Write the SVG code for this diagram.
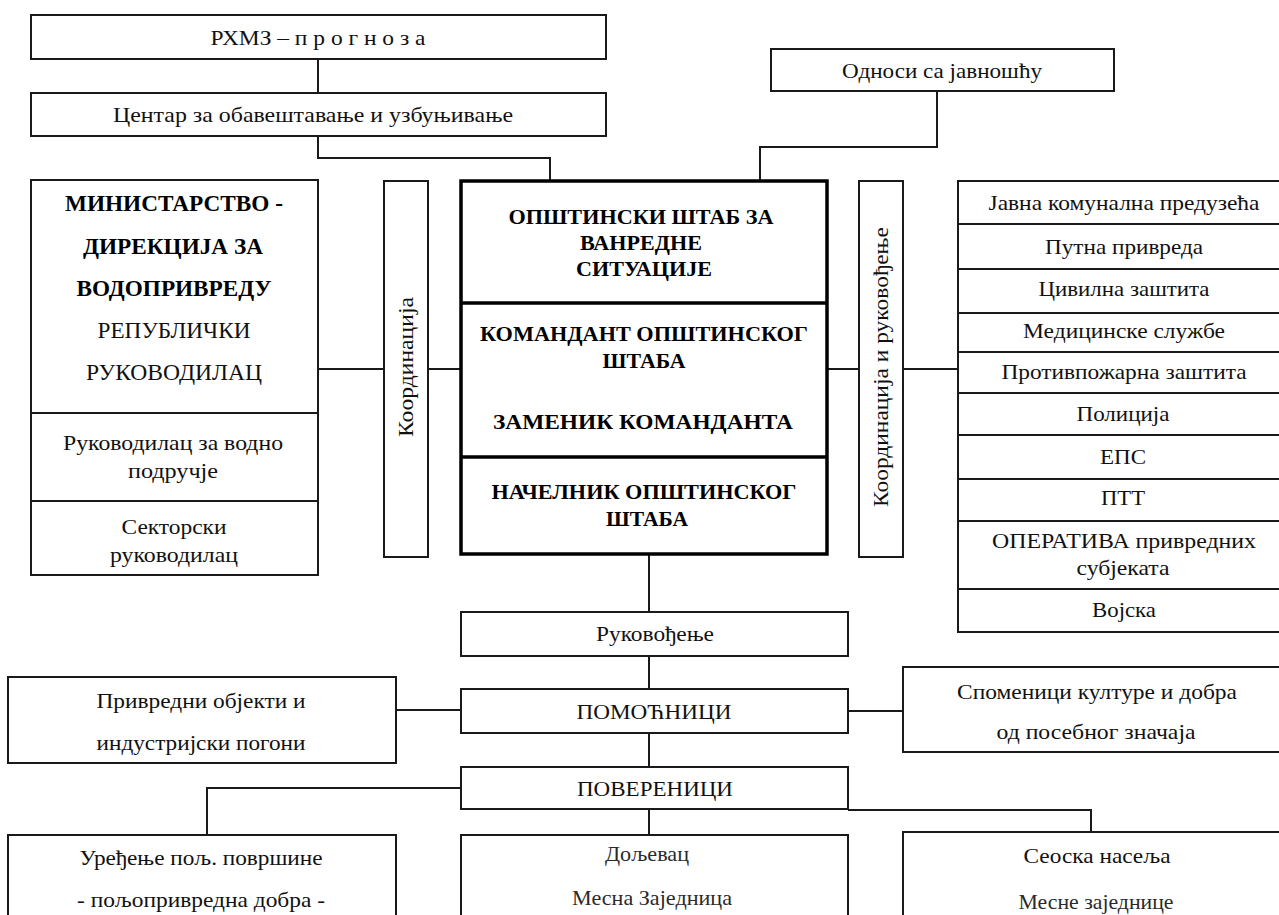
<svg xmlns="http://www.w3.org/2000/svg" width="1279" height="915" viewBox="0 0 1279 915" font-family="Liberation Serif, DejaVu Serif, serif">
<style>
.b{fill:#fff;stroke:#1a1a1a;stroke-width:2}
.k{fill:#fff;stroke:#000;stroke-width:3.5}
.c{fill:none;stroke:#1a1a1a;stroke-width:2}
.kd{fill:none;stroke:#000;stroke-width:3.5}
.t text{font-size:21px;fill:#111;text-anchor:middle;dominant-baseline:central}
.t text.bd{font-weight:bold;font-size:20px;fill:#000}
.t text.lg{font-size:23px}
.t text.lt{fill:#2a2a2a}
</style>
<rect width="1279" height="915" fill="#fff"/>
<g id="connectors">
<path class="c" d="M318 59V93"/>
<path class="c" d="M318 136V158H550V181"/>
<path class="c" d="M937 91V147H760V181"/>
<path class="c" d="M318 369H384M428 369H461"/>
<path class="c" d="M827 369H859M903 369H958"/>
<path class="c" d="M649 555V612M649 656V689M649 733V767M649 809V835"/>
<path class="c" d="M396 710H461M848 711H903"/>
<path class="c" d="M461 788H207V835"/>
<path class="c" d="M848 810H1091V832"/>
</g>
<g class="t">
<g id="rhmz"><rect class="b" x="31" y="15" width="575" height="44"/><text x="318" y="38" textLength="215" lengthAdjust="spacingAndGlyphs">РХМЗ – п р о г н о з а</text></g>
<g id="centar"><rect class="b" x="31" y="93" width="575" height="43"/><text x="313" y="115" textLength="400" lengthAdjust="spacingAndGlyphs">Центар за обавештавање и узбуњивање</text></g>
<g id="odnosi"><rect class="b" x="771" y="49" width="343" height="42"/><text x="942" y="71" textLength="200" lengthAdjust="spacingAndGlyphs">Односи са јавношћу</text></g>
<g id="ministarstvo">
<rect class="b" x="31" y="180" width="287" height="395"/>
<path class="c" d="M31 413H318M31 501H318"/>
<text class="bd lg" x="174" y="203" textLength="218" lengthAdjust="spacingAndGlyphs">МИНИСТАРСТВО -</text>
<text class="bd lg" x="173" y="246" textLength="180" lengthAdjust="spacingAndGlyphs">ДИРЕКЦИЈА ЗА</text>
<text class="bd lg" x="174" y="288" textLength="195" lengthAdjust="spacingAndGlyphs">ВОДОПРИВРЕДУ</text>
<text class="lg" x="174" y="330" textLength="153" lengthAdjust="spacingAndGlyphs">РЕПУБЛИЧКИ</text>
<text class="lg" x="174" y="372" textLength="176" lengthAdjust="spacingAndGlyphs">РУКОВОДИЛАЦ</text>
<text x="173" y="443" textLength="220" lengthAdjust="spacingAndGlyphs">Руководилац за водно</text>
<text x="173" y="471" textLength="90" lengthAdjust="spacingAndGlyphs">подручје</text>
<text x="174" y="527" textLength="105" lengthAdjust="spacingAndGlyphs">Секторски</text>
<text x="174" y="555" textLength="128" lengthAdjust="spacingAndGlyphs">руководилац</text>
</g>
<g id="koordinacija"><rect class="b" x="384" y="181" width="44" height="376"/><text transform="translate(406,367) rotate(-90)" textLength="140" lengthAdjust="spacingAndGlyphs">Координација</text></g>
<g id="stab">
<rect class="k" x="461" y="181" width="366" height="373"/>
<path class="kd" d="M461 303H827M461 457H827"/>
<text class="bd" x="641" y="217" textLength="265" lengthAdjust="spacingAndGlyphs">ОПШТИНСКИ ШТАБ ЗА</text>
<text class="bd" x="641" y="243" textLength="122" lengthAdjust="spacingAndGlyphs">ВАНРЕДНЕ</text>
<text class="bd" x="644" y="269" textLength="136" lengthAdjust="spacingAndGlyphs">СИТУАЦИЈЕ</text>
<text class="bd" x="644" y="334" textLength="328" lengthAdjust="spacingAndGlyphs">КОМАНДАНТ ОПШТИНСКОГ</text>
<text class="bd" x="644" y="361" textLength="83" lengthAdjust="spacingAndGlyphs">ШТАБА</text>
<text class="bd" x="643" y="422" textLength="300" lengthAdjust="spacingAndGlyphs">ЗАМЕНИК КОМАНДАНТА</text>
<text class="bd" x="644" y="492" textLength="305" lengthAdjust="spacingAndGlyphs">НАЧЕЛНИК ОПШТИНСКОГ</text>
<text class="bd" x="647" y="519" textLength="82" lengthAdjust="spacingAndGlyphs">ШТАБА</text>
</g>
<g id="koord-rukovodjenje"><rect class="b" x="859" y="181" width="44" height="376"/><text transform="translate(881,367) rotate(-90)" textLength="280" lengthAdjust="spacingAndGlyphs">Координација и руковођење</text></g>
<g id="sluzbe">
<rect class="b" x="958" y="181" width="330" height="451"/>
<path class="c" d="M958 224H1279M958 269H1279M958 313H1279M958 352H1279M958 393H1279M958 435H1279M958 479H1279M958 521H1279M958 589H1279"/>
<text x="1124" y="203" textLength="271" lengthAdjust="spacingAndGlyphs">Јавна комунална предузећа</text>
<text x="1124" y="247" textLength="158" lengthAdjust="spacingAndGlyphs">Путна привреда</text>
<text x="1124" y="289" textLength="171" lengthAdjust="spacingAndGlyphs">Цивилна заштита</text>
<text x="1124" y="331" textLength="202" lengthAdjust="spacingAndGlyphs">Медицинске службе</text>
<text x="1124" y="372" textLength="245" lengthAdjust="spacingAndGlyphs">Противпожарна заштита</text>
<text x="1123" y="414" textLength="93" lengthAdjust="spacingAndGlyphs">Полиција</text>
<text x="1123" y="457" textLength="46" lengthAdjust="spacingAndGlyphs">ЕПС</text>
<text x="1123" y="498" textLength="44" lengthAdjust="spacingAndGlyphs">ПТТ</text>
<text x="1124" y="541" textLength="264" lengthAdjust="spacingAndGlyphs">ОПЕРАТИВА привредних</text>
<text x="1123" y="568" textLength="93" lengthAdjust="spacingAndGlyphs">субјеката</text>
<text x="1124" y="610" textLength="64" lengthAdjust="spacingAndGlyphs">Војска</text>
</g>
<g id="rukovodjenje"><rect class="b" x="461" y="612" width="387" height="44"/><text x="655" y="634" textLength="118" lengthAdjust="spacingAndGlyphs">Руковођење</text></g>
<g id="pomocnici"><rect class="b" x="461" y="689" width="387" height="44"/><text x="654" y="712" textLength="155" lengthAdjust="spacingAndGlyphs">ПОМОЋНИЦИ</text></g>
<g id="poverenici"><rect class="b" x="461" y="767" width="387" height="42"/><text x="655" y="789" textLength="156" lengthAdjust="spacingAndGlyphs">ПОВЕРЕНИЦИ</text></g>
<g id="privredni"><rect class="b" x="8" y="677" width="388" height="86"/><text x="201" y="701" textLength="209" lengthAdjust="spacingAndGlyphs">Привредни објекти и</text><text x="201" y="743" textLength="209" lengthAdjust="spacingAndGlyphs">индустријски погони</text></g>
<g id="spomenici"><rect class="b" x="903" y="667" width="385" height="85"/><text x="1097" y="692" textLength="280" lengthAdjust="spacingAndGlyphs">Споменици културе и добра</text><text x="1096" y="732" textLength="199" lengthAdjust="spacingAndGlyphs">од посебног значаја</text></g>
<g id="uredjenje"><rect class="b" x="8" y="835" width="388" height="90"/><text x="201" y="858" textLength="243" lengthAdjust="spacingAndGlyphs">Уређење пољ. површине</text><text x="201" y="900" textLength="248" lengthAdjust="spacingAndGlyphs">- пољопривредна добра -</text></g>
<g id="doljevac"><rect class="b" x="461" y="835" width="387" height="90"/><text class="lt" x="647" y="854" textLength="84" lengthAdjust="spacingAndGlyphs">Дољевац</text><text class="lt" x="652" y="898" textLength="160" lengthAdjust="spacingAndGlyphs">Месна Заједница</text></g>
<g id="seoska"><rect class="b" x="903" y="832" width="385" height="93"/><text x="1097" y="856" textLength="147" lengthAdjust="spacingAndGlyphs">Сеоска насеља</text><text class="lt" x="1096" y="902" textLength="155" lengthAdjust="spacingAndGlyphs">Месне заједнице</text></g>
</g>
</svg>
